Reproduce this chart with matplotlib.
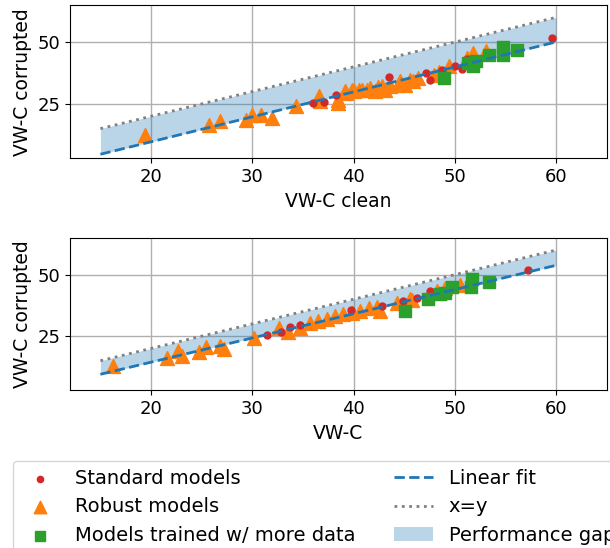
import matplotlib
matplotlib.use('Agg')
import matplotlib.pyplot as plt
import numpy as np

# Top panel: VW-C clean vs VW-C corrupted
top_standard_x = [36.0, 37.1, 38.3, 43.5, 47.2, 47.5, 48.7, 50.0, 50.7, 51.2, 59.6]
top_standard_y = [25.4, 25.8, 28.5, 35.8, 37.3, 34.8, 38.9, 40.3, 39.1, 43.1, 51.6]

top_robust_x = [19.4, 25.7, 26.8, 29.4, 30.0, 30.9, 31.9, 34.3, 36.6, 36.7, 38.5, 38.5,
                39.2, 39.3, 39.8, 40.0, 40.5, 40.8, 41.3, 41.6, 42.1, 42.4, 42.8, 43.1,
                43.6, 44.4, 44.6, 45.1, 45.6, 45.9, 46.4, 47.9, 48.4, 49.4, 51.2, 51.8, 53.1]
top_robust_y = [12.6, 16.3, 18.0, 18.4, 20.7, 20.4, 19.4, 24.3, 28.1, 26.0, 25.4, 26.7,
                30.1, 29.4, 30.8, 30.1, 30.8, 30.5, 30.8, 31.4, 30.1, 31.8, 32.1, 30.8,
                32.1, 32.8, 34.1, 32.8, 34.8, 34.1, 35.5, 36.8, 38.1, 40.2, 43.5, 45.6, 46.2]

top_more_x = [48.9, 51.3, 51.8, 52.1, 53.4, 54.8, 54.8, 56.1]
top_more_y = [35.3, 41.5, 40.2, 42.2, 44.9, 48.0, 44.9, 46.9]

top_fit = (1.009, -10.5)

# Bottom panel: VW-C vs VW-C corrupted
bot_standard_x = [31.5, 32.8, 33.7, 34.7, 39.7, 42.8, 44.9, 46.3, 47.5, 57.2]
bot_standard_y = [25.3, 26.6, 28.7, 29.4, 35.8, 37.3, 39.3, 40.6, 43.5, 52.0]

bot_robust_x = [16.2, 21.6, 22.7, 23.1, 24.7, 25.4, 26.8, 27.2, 30.2, 32.6, 33.5, 34.7,
                35.7, 36.5, 37.4, 38.2, 39.0, 39.8, 40.6, 41.5, 42.3, 42.6, 44.3, 45.6,
                45.8, 48.2, 49.0, 50.5]
bot_robust_y = [12.9, 16.3, 18.9, 16.9, 18.7, 20.5, 21.0, 19.6, 24.4, 28.4, 26.7, 28.4,
                30.4, 31.1, 31.8, 33.1, 33.8, 34.5, 35.1, 36.5, 36.9, 35.1, 38.5, 40.1,
                39.6, 43.2, 44.6, 45.9]

bot_more_x = [45.1, 47.4, 48.5, 49.0, 49.7, 51.7, 51.6, 53.4]
bot_more_y = [35.2, 40.2, 42.2, 42.7, 45.1, 48.4, 45.0, 47.0]

bot_fit = (0.984, -5.26)

line_range = (15, 60)


def draw_panel(ax, standard, robust, more, fit, xlabel):
    """Scatter the three model groups plus the fit, x=y and the gap between them."""
    xs = np.linspace(line_range[0], line_range[1], 100)
    fit_line = fit[0] * xs + fit[1]

    ax.fill_between(xs, fit_line, xs, color='tab:blue', alpha=0.3, linewidth=0,
                    label='Performance gap', zorder=1)
    ax.scatter(*robust, marker='^', s=100, color='tab:orange', label='Robust models', zorder=2)
    ax.scatter(*standard, marker='o', s=25, color='tab:red', label='Standard models', zorder=3)
    ax.scatter(*more, marker='s', s=75, color='tab:green',
               label='Models trained w/ more data', zorder=3)
    ax.plot(xs, fit_line, '--', color='tab:blue', linewidth=2, label='Linear fit', zorder=4)
    ax.plot(xs, xs, ':', color='grey', linewidth=2, label='x=y', zorder=4)

    ax.set_xlim(12, 65)
    ax.set_ylim(3, 65)
    ax.set_xticks([20, 30, 40, 50, 60])
    ax.set_yticks([25, 50])
    ax.grid(True, color='#b0b0b0', linewidth=1)
    ax.set_axisbelow(True)
    ax.tick_params(labelsize=13)
    ax.set_xlabel(xlabel, fontsize=13.5)
    ax.set_ylabel('VW-C corrupted', fontsize=13.5)


def main():
    fig = plt.figure(figsize=(6.1, 5.48), dpi=100)
    ax_top = fig.add_axes([0.1148, 0.7111, 0.8798, 0.2798])
    ax_bot = fig.add_axes([0.1148, 0.2878, 0.8798, 0.2784])

    draw_panel(ax_top, (top_standard_x, top_standard_y), (top_robust_x, top_robust_y),
               (top_more_x, top_more_y), top_fit, 'VW-C clean')
    draw_panel(ax_bot, (bot_standard_x, bot_standard_y), (bot_robust_x, bot_robust_y),
               (bot_more_x, bot_more_y), bot_fit, 'VW-C')

    # Legend in the order of the reference, runs off the right/bottom edge like the original
    handles, labels = ax_top.get_legend_handles_labels()
    order = ['Standard models', 'Robust models', 'Models trained w/ more data',
             'Linear fit', 'x=y', 'Performance gap']
    lookup = dict(zip(labels, handles))
    fig.legend([lookup[k] for k in order], order, loc='upper left',
               bbox_to_anchor=(0.021, 0.159), ncol=2, fontsize=14, markerscale=0.9,
               labelspacing=0.5, borderaxespad=0)

    plt.savefig('out.png', dpi=100)


if __name__ == "__main__":
    main()
